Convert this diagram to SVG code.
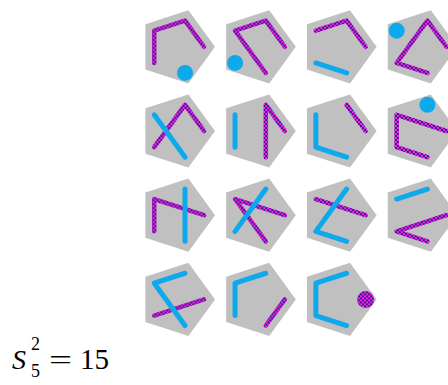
<svg xmlns="http://www.w3.org/2000/svg" xmlns:xlink="http://www.w3.org/1999/xlink" width="448" height="385" viewBox="0 0 448 385">
<defs>
<pattern id="chk" width="4" height="4" patternUnits="userSpaceOnUse">
<rect width="4" height="4" fill="#ff28c8"/>
<rect width="2" height="2" fill="#3a10b0"/>
<rect x="2" y="2" width="2" height="2" fill="#3a10b0"/>
</pattern>
<polygon id="pent" points="38.5,0 11.9,36.62 -31.15,22.63 -31.15,-22.63 11.9,-36.62"/>
</defs>
<style>
.bg{fill:#c0c0c0}
.m{fill:none;stroke:url(#chk);stroke-width:4.5;stroke-linecap:round;stroke-linejoin:round}
.c{fill:none;stroke:#0ea8ec;stroke-width:5;stroke-linecap:round;stroke-linejoin:round}
.cd{fill:#0ea8ec}
.md{fill:url(#chk)}
.t{font-family:"Liberation Serif","DejaVu Serif",serif;fill:#000}
</style>
<rect width="448" height="385" fill="#fff"/>
<g id="p1" transform="translate(176.5,46.8)"><use href="#pent" class="bg"/>
<path class="m" d="M-22.25,16.16 L-22.25,-16.16 L8.5,-26.15 L27.5,0"/>
<circle class="cd" cx="8.5" cy="26.15" r="8"/></g>
<g id="p2" transform="translate(257.3,46.8)"><use href="#pent" class="bg"/>
<path class="m" d="M8.5,26.15 L-22.25,-16.16 L8.5,-26.15 L27.5,0"/>
<circle class="cd" cx="-22.25" cy="16.16" r="8"/></g>
<g id="p3" transform="translate(338.1,46.8)"><use href="#pent" class="bg"/>
<path class="m" d="M-22.25,-16.16 L8.5,-26.15 L27.5,0"/>
<path class="c" d="M-22.25,16.16 L8.5,26.15"/></g>
<g id="p4" transform="translate(418.9,46.8)"><use href="#pent" class="bg"/>
<path class="m" d="M27.5,0 L8.5,-26.15 L-22.25,16.16 L8.5,26.15"/>
<circle class="cd" cx="-22.25" cy="-16.16" r="8"/></g>
<g id="p5" transform="translate(176.5,131)"><use href="#pent" class="bg"/>
<path class="m" d="M-22.25,16.16 L8.5,-26.15 L27.5,0"/>
<path class="c" d="M-22.25,-16.16 L8.5,26.15"/></g>
<g id="p6" transform="translate(257.3,131)"><use href="#pent" class="bg"/>
<path class="m" d="M8.5,26.15 L8.5,-26.15 L27.5,0"/>
<path class="c" d="M-22.25,-16.16 L-22.25,16.16"/></g>
<g id="p7" transform="translate(338.1,131)"><use href="#pent" class="bg"/>
<path class="m" d="M8.5,-26.15 L27.5,0"/>
<path class="c" d="M-22.25,-16.16 L-22.25,16.16 L8.5,26.15"/></g>
<g id="p8" transform="translate(418.9,131)"><use href="#pent" class="bg"/>
<path class="m" d="M8.5,26.15 L-22.25,16.16 L-22.25,-16.16 L27.5,0"/>
<circle class="cd" cx="8.5" cy="-26.15" r="8"/></g>
<g id="p9" transform="translate(176.5,215.2)"><use href="#pent" class="bg"/>
<path class="m" d="M-22.25,16.16 L-22.25,-16.16 L27.5,0"/>
<path class="c" d="M8.5,-26.15 L8.5,26.15"/></g>
<g id="p10" transform="translate(257.3,215.2)"><use href="#pent" class="bg"/>
<path class="m" d="M27.5,0 L-22.25,-16.16 L8.5,26.15"/>
<path class="c" d="M8.5,-26.15 L-22.25,16.16"/></g>
<g id="p11" transform="translate(338.1,215.2)"><use href="#pent" class="bg"/>
<path class="m" d="M-22.25,-16.16 L27.5,0"/>
<path class="c" d="M8.5,-26.15 L-22.25,16.16 L8.5,26.15"/></g>
<g id="p12" transform="translate(418.9,215.2)"><use href="#pent" class="bg"/>
<path class="m" d="M27.5,0 L-22.25,16.16 L8.5,26.15"/>
<path class="c" d="M-22.25,-16.16 L8.5,-26.15"/></g>
<g id="p13" transform="translate(176.5,299.4)"><use href="#pent" class="bg"/>
<path class="m" d="M-22.25,16.16 L27.5,0"/>
<path class="c" d="M8.5,-26.15 L-22.25,-16.16 L8.5,26.15"/></g>
<g id="p14" transform="translate(257.3,299.4)"><use href="#pent" class="bg"/>
<path class="m" d="M27.5,0 L8.5,26.15"/>
<path class="c" d="M8.5,-26.15 L-22.25,-16.16 L-22.25,16.16"/></g>
<g id="p15" transform="translate(338.1,299.4)"><use href="#pent" class="bg"/>
<path class="c" d="M8.5,-26.15 L-22.25,-16.16 L-22.25,16.16 L8.5,26.15"/>
<circle class="md" cx="27.5" cy="0" r="8.5"/></g>
<g id="label">
<text class="t" x="12" y="369" font-size="28" font-style="italic">S</text>
<text class="t" x="31" y="350" font-size="18">2</text>
<text class="t" x="31" y="377" font-size="18">5</text>
<text class="t" x="49" y="369" font-size="28" textLength="23" lengthAdjust="spacingAndGlyphs">=</text>
<text class="t" x="80" y="369" font-size="29">15</text>
</g>
</svg>
